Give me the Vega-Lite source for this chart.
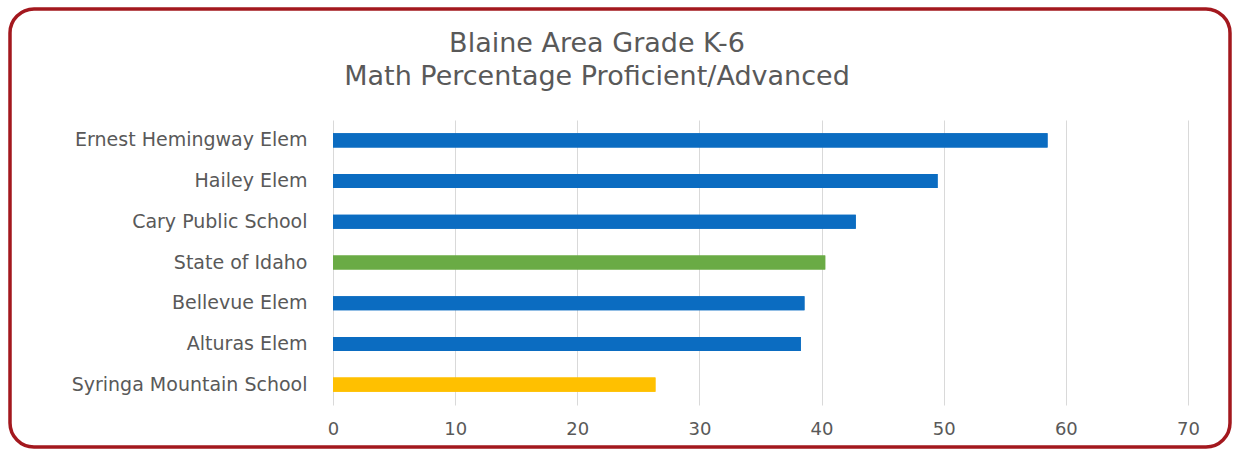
{
  "$schema": "https://vega.github.io/schema/vega-lite/v6.json",
  "autosize": {"type": "none"},
  "width": 1220,
  "height": 438,
  "padding": {"left": 10, "top": 9, "right": 9, "bottom": 3},
  "background": "white",
  "config": {
    "view": {"stroke": "#a3181e", "strokeWidth": 3.5, "cornerRadius": 24, "fill": "white"},
    "font": "DejaVu Sans"
  },
  "title": {
    "text": ["Blaine Area Grade K-6", "Math Percentage Proficient/Advanced"],
    "anchor": "middle",
    "frame": "group",
    "orient": "top",
    "baseline": "top",
    "offset": 0,
    "dx": -23,
    "dy": 82,
    "fontSize": 27,
    "fontWeight": "normal",
    "lineHeight": 33,
    "color": "#595959",
    "font": "DejaVu Sans"
  },
  "data": {
    "values": [
      {"school": "Ernest Hemingway Elem", "pct": 58.5, "group": "school"},
      {"school": "Hailey Elem", "pct": 49.5, "group": "school"},
      {"school": "Cary Public School", "pct": 42.8, "group": "school"},
      {"school": "State of Idaho", "pct": 40.3, "group": "state"},
      {"school": "Bellevue Elem", "pct": 38.6, "group": "school"},
      {"school": "Alturas Elem", "pct": 38.3, "group": "school"},
      {"school": "Syringa Mountain School", "pct": 26.4, "group": "syringa"}
    ]
  },
  "encoding": {
    "y": {
      "field": "school",
      "type": "nominal",
      "sort": null,
      "scale": {"range": [111, 396], "paddingInner": 0.655, "paddingOuter": 0.3275},
      "axis": {
        "title": null,
        "orient": "left",
        "offset": -297,
        "domain": false,
        "ticks": false,
        "grid": false,
        "labelPadding": 0,
        "labelLimit": 400,
        "labelFontSize": 19,
        "labelColor": "#595959",
        "labelFont": "DejaVu Sans"
      }
    },
    "color": {
      "field": "group",
      "type": "nominal",
      "scale": {"domain": ["school", "state", "syringa"], "range": ["#0b6cc1", "#6aab45", "#ffc000"]},
      "legend": null
    }
  },
  "layer": [
    {
      "mark": {"type": "bar"},
      "encoding": {
        "x": {
          "field": "pct",
          "type": "quantitative",
          "scale": {"domain": [0, 70], "range": [323, 1178], "nice": false},
          "axis": {
            "title": null,
            "orient": "top",
            "values": [0, 10, 20, 30, 40, 50, 60, 70],
            "domain": false,
            "ticks": false,
            "labels": false,
            "grid": true,
            "gridColor": "#d9d9d9",
            "gridWidth": 1
          }
        }
      }
    },
    {
      "mark": {"type": "bar"},
      "encoding": {
        "x": {
          "field": "pct",
          "type": "quantitative",
          "scale": {"domain": [0, 70], "range": [323, 1178], "nice": false},
          "axis": {
            "title": null,
            "orient": "bottom",
            "offset": -39,
            "values": [0, 10, 20, 30, 40, 50, 60, 70],
            "domain": false,
            "ticks": false,
            "grid": false,
            "labelFlush": false,
            "labelPadding": 12,
            "labelFontSize": 18,
            "labelColor": "#595959",
            "labelFont": "DejaVu Sans"
          }
        }
      }
    }
  ],
  "resolve": {"axis": {"x": "independent"}}
}
